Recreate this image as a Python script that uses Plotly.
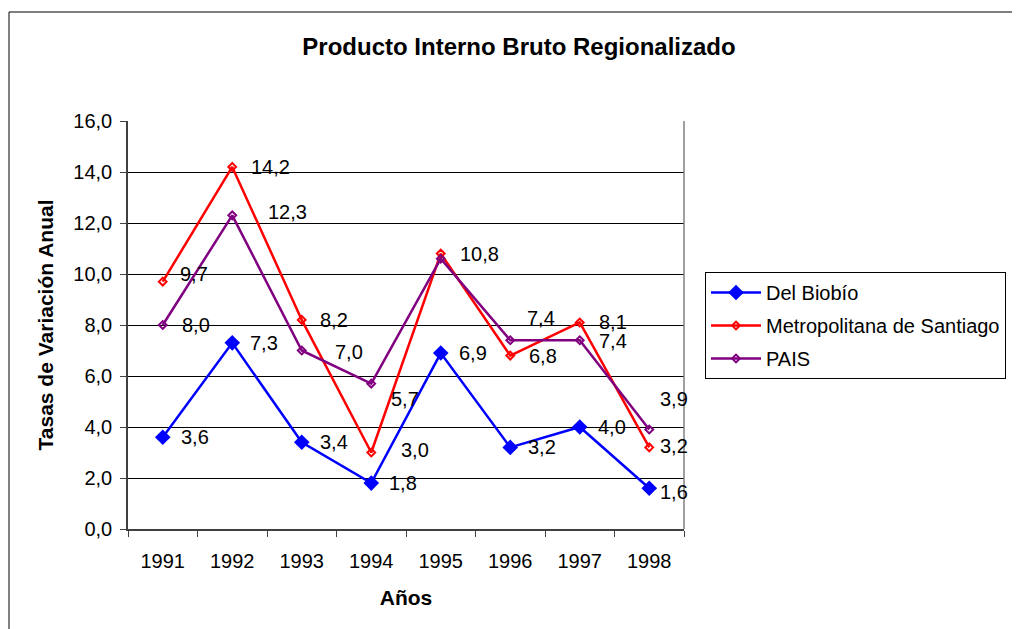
import plotly.graph_objects as go

years = [1991, 1992, 1993, 1994, 1995, 1996, 1997, 1998]
year_labels = [str(y) for y in years]
biobio = [3.6, 7.3, 3.4, 1.8, 6.9, 3.2, 4.0, 1.6]
metro = [9.7, 14.2, 8.2, 3.0, 10.8, 6.8, 8.1, 3.2]
pais = [8.0, 12.3, 7.0, 5.7, 10.6, 7.4, 7.4, 3.9]

series_names = ["Del Biobío", "Metropolitana de Santiago", "PAIS"]
colors = ["#0000FF", "#FF0000", "#800080"]

# label placement (pixel gap to the right, pixel vertical shift); None = hidden label
label_style = [
    [(16, 0), (16, 0), (16, 0), (16, 0), (16, 0), (16, 0), (16, 0), (9, -4)],
    [(15, 8), (17, 0), (16, 0), (28, 3), (17, 0), (17, 0), (17, 0), (9, 1)],
    [(17, 0), (34, 3), (31, -1), (18, -15), None, (15, 22), (17, -1), (9, 31)],
]

FONT = "Liberation Sans, Arial, sans-serif"

fig = go.Figure()
all_series = [biobio, metro, pais]
for i, (name, vals, col) in enumerate(zip(series_names, all_series, colors)):
    if i == 0:
        marker = dict(symbol="diamond", size=12, color=col, line=dict(width=0))
    else:
        marker = dict(symbol="diamond-open", size=6, color=col, line=dict(width=2, color=col))
    fig.add_trace(go.Scatter(
        x=years, y=vals, name=name, mode="lines+markers",
        line=dict(color=col, width=2.5), marker=marker,
        legendgroup=f"g{i}", cliponaxis=False,
    ))

annotations = []
for vals, styles in zip(all_series, label_style):
    for x, v, st in zip(years, vals, styles):
        if st is None:
            continue
        annotations.append(dict(
            x=x, y=v, xref="x", yref="y", text=f"{v:.1f}".replace(".", ","),
            showarrow=False, xanchor="left", yanchor="middle",
            xshift=st[0], yshift=st[1],
            font=dict(family=FONT, size=20, color="black"),
        ))

W, H = 1020, 629
OFF = 8  # page body margin of the written html
# plot area in page pixels
L, R, T, B = 128 - OFF, 684 - OFF, 121 - OFF, 529 - OFF
pw, ph = R - L, B - T


def px(x):
    return (x - OFF - L) / pw


def py(y):
    return (B - (y - OFF)) / ph


fig.update_layout(
    width=W, height=H,
    margin=dict(l=L, r=W - R, t=T, b=H - B, autoexpand=False),
    paper_bgcolor="white", plot_bgcolor="white",
    separators=",.",
    font=dict(family=FONT, size=20, color="black"),
    title=dict(text="<b>Producto Interno Bruto Regionalizado</b>",
               x=(519 - OFF) / W, xanchor="center", y=1 - (47 - OFF) / H, yanchor="middle",
               font=dict(family=FONT, size=24, color="black")),
    xaxis=dict(
        range=[years[0] - 0.5, years[-1] + 0.5], showgrid=False, showline=True,
        linecolor="#404040", linewidth=1.5,
        tickmode="array", tickvals=years, ticktext=year_labels, ticks="",
        tickangle=0, ticklabelstandoff=13, automargin=False,
        minor=dict(ticks="outside", tick0=years[0] - 0.5, dtick=1, ticklen=6,
                   tickcolor="#404040", showgrid=False),
        title=dict(text="<b>Años</b>", font=dict(size=21), standoff=20),
        zeroline=False,
    ),
    yaxis=dict(
        range=[0, 16], dtick=2, tickformat=".1f", showgrid=True, gridcolor="black", gridwidth=1,
        showline=True, linecolor="#404040", linewidth=1.5, ticks="outside", ticklen=6,
        tickcolor="#404040", ticklabelstandoff=4, zeroline=False, automargin=False,
        title=dict(text="<b>Tasas de Variación Anual</b>", font=dict(size=21), standoff=14),
    ),
    legend=dict(
        x=px(705), xanchor="left", y=py(272), yanchor="top",
        bordercolor="black", borderwidth=1, bgcolor="white",
        font=dict(family=FONT, size=20), tracegroupgap=4, itemwidth=50,
        entrywidth=330, entrywidthmode="pixels",
    ),
    annotations=annotations,
    shapes=[
        dict(type="line", xref="paper", yref="paper", x0=1, x1=1, y0=0, y1=1,
             line=dict(color="#808080", width=1.5)),
        dict(type="rect", xref="paper", yref="paper", x0=px(9), x1=px(1040),
             y0=py(650), y1=py(12), line=dict(color="black", width=1), layer="below"),
    ],
)

fig.write_html("out.html")
